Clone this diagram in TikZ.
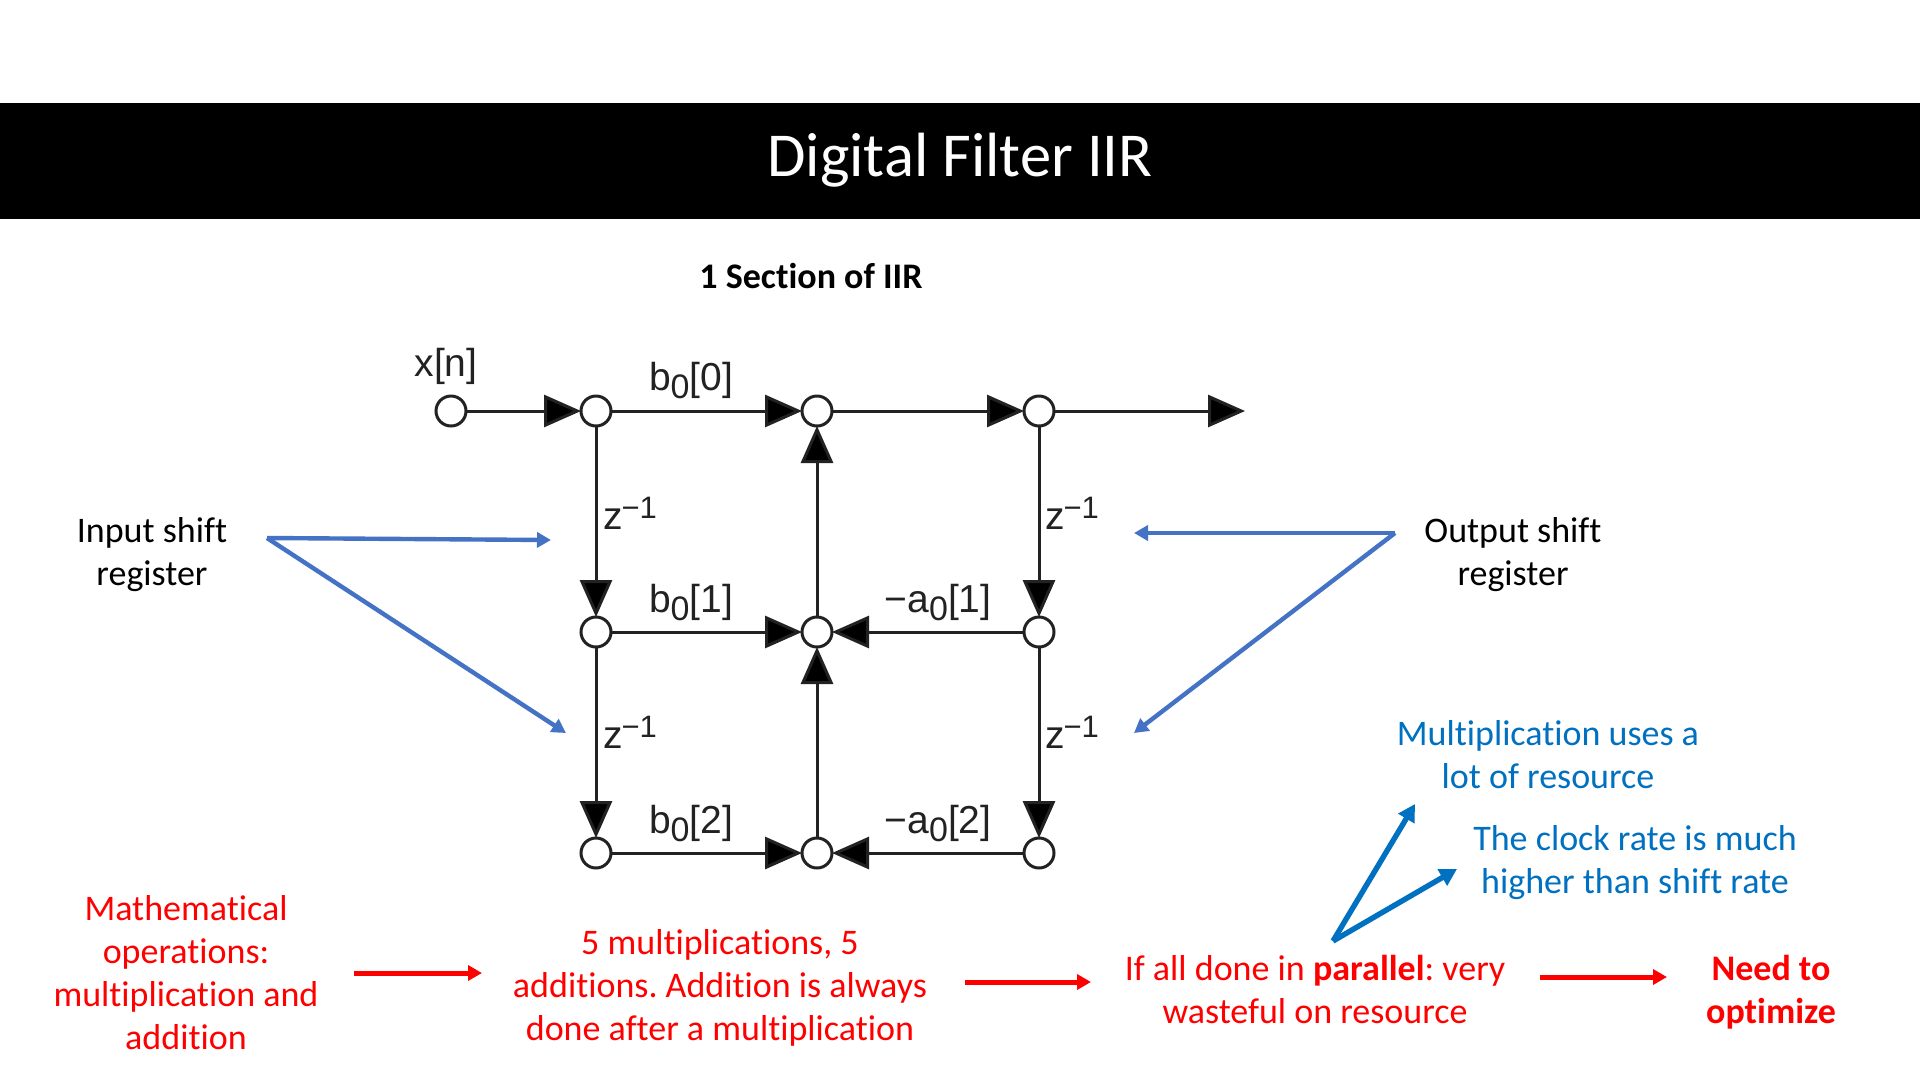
\documentclass[tikz,border=0pt]{standalone}
\usepackage{fontspec}
\setmainfont[Ligatures=NoCommon]{Carlito}
\newfontfamily\helv{Liberation Sans}
\usetikzlibrary{arrows.meta}
\definecolor{shiftblue}{HTML}{4472C4}
\definecolor{noteblue}{HTML}{0070C0}
\definecolor{notered}{HTML}{FF0000}
\definecolor{inkgrey}{HTML}{222222}
\newcommand{\lowz}[1]{\raisebox{-8pt}{\fontsize{34}{34}\selectfont #1}}
\newcommand{\zinv}{z\raisebox{11pt}{\fontsize{31}{31}\selectfont\kern-1pt −1}}
\frenchspacing
\tikzset{
  x=1pt,y=-1pt,
  junction/.style={circle,draw=inkgrey,fill=white,line width=3pt,minimum size=30pt,inner sep=0pt,outer sep=0pt},
  sig/.style={draw=inkgrey,line width=3pt,-{Triangle[length=37pt,width=32pt,fill=black]}},
  lab/.style={font=\helv\fontsize{39}{39}\selectfont,text=inkgrey,inner sep=0pt},
  note/.style={align=center,inner sep=0pt,font=\fontsize{36}{43}\selectfont},
  rednote/.style={note,text=notered},
  bluenote/.style={note,text=noteblue},
  blacknote/.style={note,text=black},
  shiftarrow/.style={draw=shiftblue,line width=4.4pt,-{Triangle[length=14pt,width=15pt]}},
  notearrow/.style={draw=noteblue,line width=5.4pt,-{Triangle[length=17pt,width=18pt]}},
  redarrow/.style={draw=notered,line width=5pt,-{Triangle[length=14pt,width=15pt]}},
}
\begin{document}
\begin{tikzpicture}
\useasboundingbox (0,0) rectangle (1920,1080);
\fill[white] (0,0) rectangle (1920,1080);
\fill[black] (0,103) rectangle (1920,219);
\node[inner sep=0pt,text=white,font=\fontsize{62.5}{62.5}\selectfont] (title) at (960,160) {Digital Filter IIR};
\node[blacknote,font=\bfseries\fontsize{36}{43}\selectfont] (sub) at (811,276) {1 Section of IIR};

% signal flow graph
\node[junction] (in) at (451,411) {};
\node[junction] (a1) at (596,411) {};
\node[junction] (b1) at (817,411) {};
\node[junction] (c1) at (1039,411) {};
\node[junction] (a2) at (596,632) {};
\node[junction] (b2) at (817,632) {};
\node[junction] (c2) at (1039,632) {};
\node[junction] (a3) at (596,853) {};
\node[junction] (b3) at (817,853) {};
\node[junction] (c3) at (1039,853) {};
\coordinate (out) at (1245,411);
\draw[sig] (in) -- (a1);
\draw[sig] (a1) -- (b1);
\draw[sig] (b1) -- (c1);
\draw[sig] (c1) -- (out);
\draw[sig] (a1) -- (a2);
\draw[sig] (a2) -- (a3);
\draw[sig] (c1) -- (c2);
\draw[sig] (c2) -- (c3);
\draw[sig] (b2) -- (b1);
\draw[sig] (b3) -- (b2);
\draw[sig] (a2) -- (b2);
\draw[sig] (c2) -- (b2);
\draw[sig] (a3) -- (b3);
\draw[sig] (c3) -- (b3);

\node[lab] (xn) at (446,366) {x[n]};
\node[lab] (l0) at (691,381) {b\lowz{0}[0]};
\node[lab] (l1) at (691,603) {b\lowz{0}[1]};
\node[lab] (l2) at (691,824) {b\lowz{0}[2]};
\node[lab] (r1) at (938,603) {−a\lowz{0}[1]};
\node[lab] (r2) at (938,824) {−a\lowz{0}[2]};
\node[lab] (z1) at (630,513) {\zinv};
\node[lab] (z2) at (630,732) {\zinv};
\node[lab] (z3) at (1072,513) {\zinv};
\node[lab] (z4) at (1072,732) {\zinv};

% shift register notes
\node[blacknote] (inreg) at (152,555) {Input shift\\register};
\node[blacknote] (outreg) at (1513,555) {Output shift\\register};
\coordinate (is) at (267,538);
\coordinate (ie1) at (551,540);
\coordinate (ie2) at (566,733);
\coordinate (os) at (1395,533);
\coordinate (oe1) at (1134,533);
\coordinate (oe2) at (1134,733);
\draw[shiftarrow] (is) -- (ie1);
\draw[shiftarrow] (is) -- (ie2);
\draw[shiftarrow] (os) -- (oe1);
\draw[shiftarrow] (os) -- (oe2);

% resource notes
\node[bluenote] (mult) at (1548,755) {Multiplication uses a\\lot of resource};
\node[bluenote] (clock) at (1635,863) {The clock rate is much\\higher than shift rate};
\coordinate (ns) at (1333,941);
\coordinate (ne1) at (1415,804);
\coordinate (ne2) at (1457,869);
\draw[notearrow] (ns) -- (ne1);
\draw[notearrow] (ns) -- (ne2);

% bottom chain
\node[rednote] (math) at (186,973) {Mathematical\\operations:\\multiplication and\\addition};
\node[rednote] (five) at (720,988) {5 multiplications, 5\\additions. Addition is always\\done after a multiplication};
\node[rednote] (par) at (1315,989) {If all done in \textbf{parallel}: very\\wasteful on resource};
\node[rednote,font=\bfseries\fontsize{36}{43}\selectfont] (need) at (1771,992) {Need to\\optimize};
\coordinate (r1s) at (354,973);
\coordinate (r1e) at (482,973);
\coordinate (r2s) at (965,982);
\coordinate (r2e) at (1091,982);
\coordinate (r3s) at (1540,977);
\coordinate (r3e) at (1667,977);
\draw[redarrow] (r1s) -- (r1e);
\draw[redarrow] (r2s) -- (r2e);
\draw[redarrow] (r3s) -- (r3e);
\end{tikzpicture}
\end{document}
